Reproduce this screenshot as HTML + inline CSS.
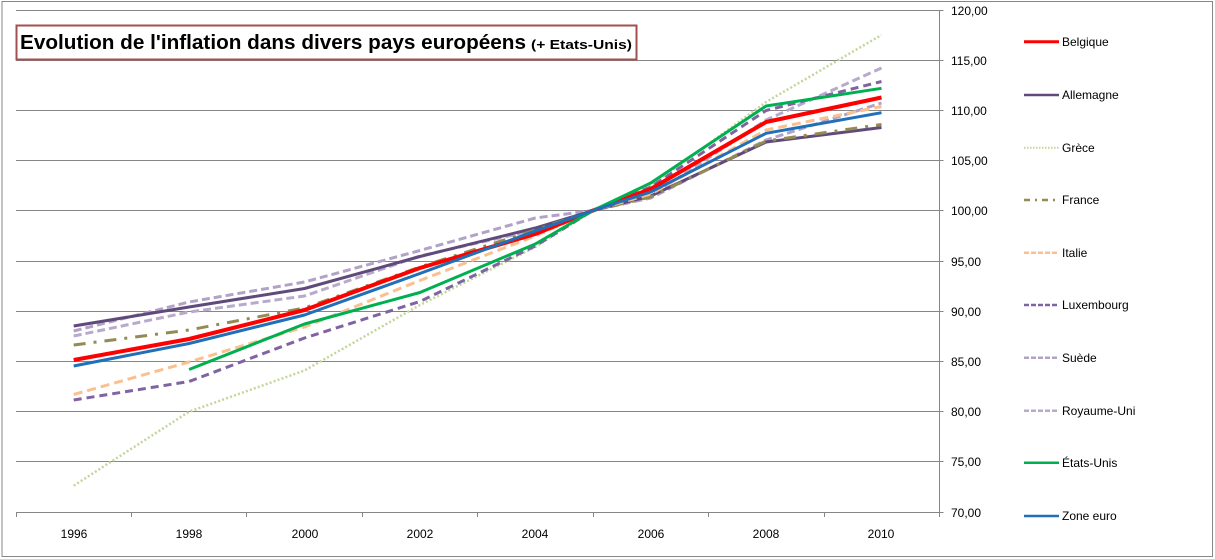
<!DOCTYPE html>
<html>
<head>
<meta charset="utf-8">
<style>
  html,body{margin:0;padding:0;background:#fff;}
  svg{display:block;}
  text{font-family:"Liberation Sans", Arial, sans-serif;}
</style>
</head>
<body>
<svg width="1215" height="559" viewBox="0 0 1215 559" xmlns="http://www.w3.org/2000/svg">
  <rect x="0" y="0" width="1215" height="559" fill="#fff"/>
  <!-- outer border -->
  <rect x="2" y="1.5" width="1210.5" height="555" fill="none" stroke="#878787" stroke-width="1"/>

  <!-- gridlines -->
  <g stroke="#868686" stroke-width="1">
    <line x1="16" y1="10.5" x2="943.5" y2="10.5"/>
    <line x1="16" y1="60.5" x2="943.5" y2="60.5"/>
    <line x1="16" y1="110.5" x2="943.5" y2="110.5"/>
    <line x1="16" y1="160.5" x2="943.5" y2="160.5"/>
    <line x1="16" y1="210.5" x2="943.5" y2="210.5"/>
    <line x1="16" y1="261.5" x2="943.5" y2="261.5"/>
    <line x1="16" y1="311.5" x2="943.5" y2="311.5"/>
    <line x1="16" y1="361.5" x2="943.5" y2="361.5"/>
    <line x1="16" y1="411.5" x2="943.5" y2="411.5"/>
    <line x1="16" y1="461.5" x2="943.5" y2="461.5"/>
    <line x1="16" y1="512.5" x2="943.5" y2="512.5"/>
    <!-- right axis -->
    <line x1="939.5" y1="10" x2="939.5" y2="517"/>
    <!-- x ticks -->
    <line x1="16.5" y1="512" x2="16.5" y2="517"/>
    <line x1="131.5" y1="512" x2="131.5" y2="517"/>
    <line x1="246.5" y1="512" x2="246.5" y2="517"/>
    <line x1="362.5" y1="512" x2="362.5" y2="517"/>
    <line x1="477.5" y1="512" x2="477.5" y2="517"/>
    <line x1="593.5" y1="512" x2="593.5" y2="517"/>
    <line x1="708.5" y1="512" x2="708.5" y2="517"/>
    <line x1="824.5" y1="512" x2="824.5" y2="517"/>
  </g>

  <!-- y axis labels -->
  <g font-size="12" fill="#000">
    <text x="951" y="15">120,00</text>
    <text x="951" y="65">115,00</text>
    <text x="951" y="115">110,00</text>
    <text x="951" y="165">105,00</text>
    <text x="951" y="215">100,00</text>
    <text x="951" y="266">95,00</text>
    <text x="951" y="316">90,00</text>
    <text x="951" y="366">85,00</text>
    <text x="951" y="416">80,00</text>
    <text x="951" y="466">75,00</text>
    <text x="951" y="517">70,00</text>
  </g>

  <!-- x axis labels -->
  <g font-size="12" fill="#000" text-anchor="middle">
    <text x="74" y="538">1996</text>
    <text x="189" y="538">1998</text>
    <text x="305" y="538">2000</text>
    <text x="420" y="538">2002</text>
    <text x="535" y="538">2004</text>
    <text x="651" y="538">2006</text>
    <text x="766" y="538">2008</text>
    <text x="881" y="538">2010</text>
  </g>

  <!-- series -->
  <g fill="none" stroke-linejoin="round">
    <!-- Grèce -->
    <polyline stroke="#c3d69b" stroke-width="2.5" stroke-dasharray="2 2.2"
      points="73.7,485.7 189.1,411.7 304.5,370.5 419.9,305 535.3,247 593,210.5 650.7,186 766.1,102 881.5,35"/>
    <!-- Suède -->
    <polyline stroke="#b3a2c7" stroke-width="3" stroke-dasharray="8 4"
      points="73.7,331 189.1,302 304.5,282 419.9,250.5 535.3,218 593,210.5 650.7,198 766.1,140 881.5,103"/>
    <!-- Royaume-Uni -->
    <polyline stroke="#b8aacb" stroke-width="3" stroke-dasharray="8 4"
      points="73.7,336 189.1,312 304.5,296 419.9,256 535.3,230 593,210.5 650.7,196 766.1,120 881.5,68"/>
    <!-- Allemagne -->
    <polyline stroke="#604a7b" stroke-width="3"
      points="73.7,326 189.1,307 304.5,288.5 419.9,256.5 535.3,228 593,210.5 650.7,196 766.1,142 881.5,127.5"/>
    <!-- France -->
    <polyline stroke="#948a54" stroke-width="3" stroke-dasharray="12 8 3 8"
      points="73.7,345 189.1,330 304.5,308 419.9,267 535.3,230 593,210.5 650.7,197 766.1,141 881.5,124.5"/>
    <!-- Italie -->
    <polyline stroke="#fac090" stroke-width="3" stroke-dasharray="9 5"
      points="73.7,394.5 189.1,362 304.5,327 419.9,280.5 535.3,236 593,210.5 650.7,194 766.1,130 881.5,106.5"/>
    <!-- Luxembourg -->
    <polyline stroke="#8064a2" stroke-width="3" stroke-dasharray="8 5"
      points="73.7,400 189.1,381.5 304.5,338 419.9,301.5 535.3,246 593,210.5 650.7,187 766.1,110.5 881.5,81.5"/>
    <!-- Belgique -->
    <polyline stroke="#ff0000" stroke-width="4"
      points="73.7,360 189.1,339 304.5,310 419.9,268 535.3,234 593,210.5 650.7,189 766.1,122 881.5,97.5"/>
    <!-- Etats-Unis -->
    <polyline stroke="#00b050" stroke-width="3"
      points="189.1,369.5 304.5,324 419.9,292.5 535.3,244 593,210.5 650.7,183 766.1,106 881.5,88.3"/>
    <!-- Zone euro -->
    <polyline stroke="#1f70b8" stroke-width="3"
      points="73.7,366 189.1,343.5 304.5,315 419.9,273.5 535.3,231 593,210.5 650.7,192 766.1,133.3 881.5,112.7"/>
  </g>

  <!-- title -->
  <rect x="16.5" y="25.5" width="620" height="34" fill="#fff" stroke="#a0504d" stroke-width="2"/>
  <text x="20" y="49" font-size="20" font-weight="bold" fill="#000" textLength="506" lengthAdjust="spacingAndGlyphs">Evolution de l'inflation dans divers pays européens</text>
  <text x="531" y="49" font-size="12.5" font-weight="bold" fill="#000" textLength="101" lengthAdjust="spacingAndGlyphs">(+ Etats-Unis)</text>

  <!-- legend -->
  <g fill="none">
    <line x1="1024" y1="41.7" x2="1059" y2="41.7" stroke="#ff0000" stroke-width="3"/>
    <line x1="1024" y1="95" x2="1059" y2="95" stroke="#604a7b" stroke-width="2.5"/>
    <line x1="1024" y1="147.7" x2="1059" y2="147.7" stroke="#c3d69b" stroke-width="2" stroke-dasharray="1.5 1.5"/>
    <line x1="1024" y1="200" x2="1059" y2="200" stroke="#948a54" stroke-width="2.5" stroke-dasharray="6 5 2 5"/>
    <line x1="1024" y1="252.7" x2="1059" y2="252.7" stroke="#fac090" stroke-width="2.5" stroke-dasharray="5 2"/>
    <line x1="1024" y1="305" x2="1059" y2="305" stroke="#8064a2" stroke-width="2.5" stroke-dasharray="5 2"/>
    <line x1="1024" y1="357.7" x2="1059" y2="357.7" stroke="#b3a2c7" stroke-width="2.5" stroke-dasharray="5 2"/>
    <line x1="1024" y1="410.7" x2="1059" y2="410.7" stroke="#b8aacb" stroke-width="2.5" stroke-dasharray="5 2"/>
    <line x1="1024" y1="462.7" x2="1059" y2="462.7" stroke="#00b050" stroke-width="2.5"/>
    <line x1="1024" y1="516" x2="1059" y2="516" stroke="#1f70b8" stroke-width="2.5"/>
  </g>
  <g font-size="12" fill="#000">
    <text x="1062" y="46">Belgique</text>
    <text x="1062" y="99">Allemagne</text>
    <text x="1062" y="152">Grèce</text>
    <text x="1062" y="204">France</text>
    <text x="1062" y="257">Italie</text>
    <text x="1062" y="309">Luxembourg</text>
    <text x="1062" y="362">Suède</text>
    <text x="1062" y="415">Royaume-Uni</text>
    <text x="1062" y="467">États-Unis</text>
    <text x="1062" y="520">Zone euro</text>
  </g>
</svg>
</body>
</html>
